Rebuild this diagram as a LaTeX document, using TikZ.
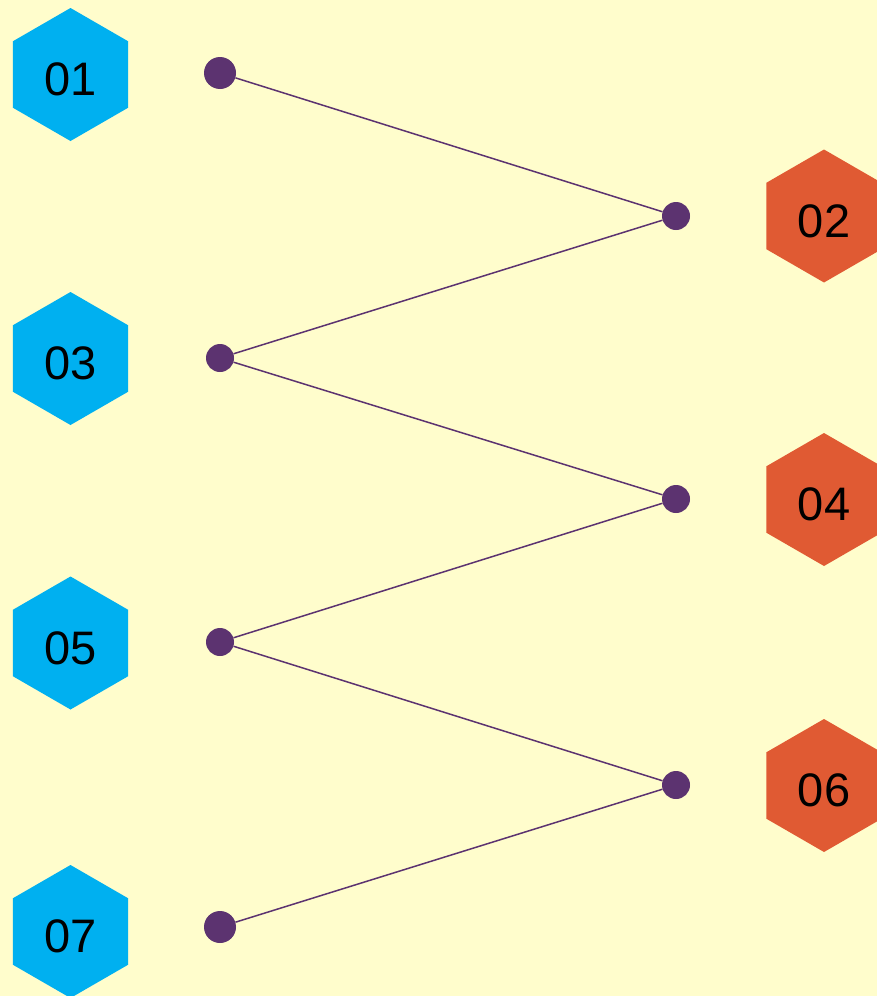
\documentclass[tikz,border=0pt]{standalone}
\usepackage{fontspec}
\setmainfont{Liberation Sans}
\usetikzlibrary{shapes.geometric, positioning}
\definecolor{bgyellow}{HTML}{FFFDCC}
\definecolor{hexblue}{HTML}{00B0F0}
\definecolor{hexorange}{HTML}{E05A33}
\definecolor{zigpurple}{HTML}{5C3370}
\tikzset{
	hexnode/.style={regular polygon, regular polygon sides=6, shape border rotate=30,
		minimum size=133pt, inner sep=0pt, outer sep=0pt, text=black,
		text height=42pt, text depth=0pt,
		font=\fontsize{47}{50}\selectfont},
	dotnode/.style={circle, fill=zigpurple, inner sep=0pt, minimum size=28pt},
	enddot/.style={dotnode, minimum size=32pt},
	zigline/.style={draw=zigpurple, line width=1.5pt}
}

\begin{document}
\begin{tikzpicture}[x=1pt, y=-1pt]
				\fill[bgyellow] (0,0) rectangle (877,996); % 背景
				\useasboundingbox (0,0) rectangle (877,996);

				\foreach \n/\y in {01/74.5,03/358.5,05/643,07/931.5} % 左侧六边形
					\node[hexnode, fill=hexblue] (h\n) at (70.5,\y) {\n};
				\foreach \n/\y in {02/216,04/499.5,06/785.5} % 右侧六边形
					\node[hexnode, fill=hexorange] (h\n) at (824,\y) {\n};

				\node[enddot] (d1) at (220,73) {};
				\node[dotnode] (d3) at (220,358) {};
				\node[dotnode] (d5) at (220,642) {};
				\node[enddot] (d7) at (220,927) {};
				\foreach \n/\y in {2/216,4/499,6/785} % 右侧圆点
					\node[dotnode] (d\n) at (676,\y) {};

				\foreach \a/\b in {1/2,3/2,3/4,5/4,5/6,7/6} % 折线
					\draw[zigline] (d\a) -- (d\b);
			\end{tikzpicture}
\end{document}
